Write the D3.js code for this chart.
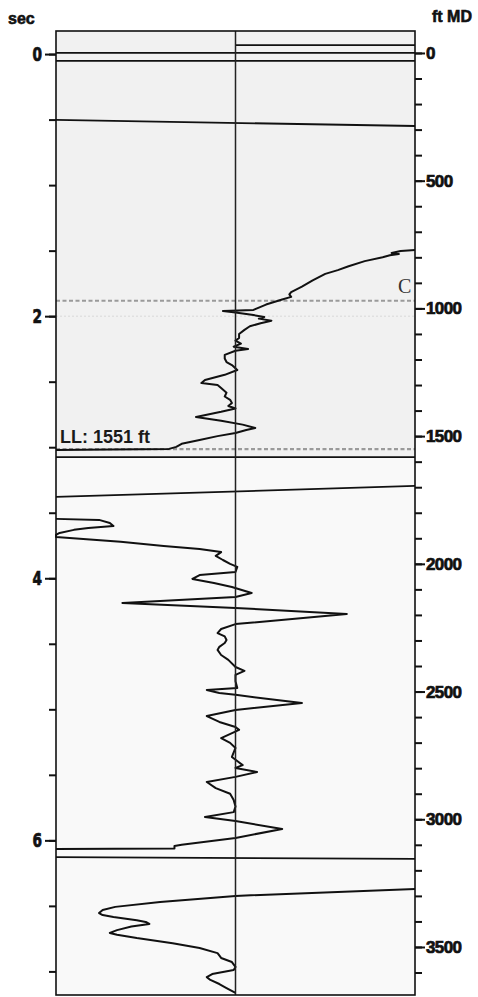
<!DOCTYPE html>
<html>
<head>
<meta charset="utf-8">
<script src="https://cdn.jsdelivr.net/npm/d3@7/dist/d3.min.js"></script>
<style>
  html, body { margin: 0; padding: 0; background: #fff; }
  svg { display: block; }
  .tick text { font-weight: bold; fill: #111; stroke: #111; stroke-width: 0.7px; }
</style>
</head>
<body>
<div id="chart"></div>
<script>
// Depth track: amplitude (-1 … 1) against measured depth in ft.
const curveUpper = [
  [771, 1.0], [775, 0.92], [783, 0.87], [787, 0.91], [792, 0.86], [800, 0.82],
  [815, 0.72], [835, 0.63], [850, 0.57], [865, 0.50], [890, 0.43], [915, 0.37],
  [936, 0.31], [945, 0.30], [955, 0.31], [965, 0.26], [985, 0.17], [1000, 0.12],
  [1006, 0.10], [1010, -0.07], [1016, 0.0], [1026, 0.10], [1034, 0.16], [1040, 0.13],
  [1048, 0.20], [1058, 0.14], [1070, 0.08], [1084, 0.05], [1100, 0.02], [1116, 0.02],
  [1126, 0.0], [1138, 0.03], [1150, -0.01], [1159, 0.07], [1166, 0.0], [1182, -0.06],
  [1196, -0.06], [1210, -0.05], [1222, -0.02], [1241, 0.01], [1260, -0.06],
  [1280, -0.17], [1292, -0.19], [1300, -0.10], [1312, -0.08], [1330, -0.05],
  [1345, -0.06], [1358, -0.03], [1370, -0.02], [1382, -0.04], [1392, 0.0],
  [1405, -0.08], [1425, -0.22], [1440, -0.08], [1455, 0.04], [1468, 0.11],
  [1476, 0.06], [1488, 0.0], [1500, -0.10], [1515, -0.20], [1530, -0.30],
  [1542, -0.33], [1550, -0.37], [1554, -1.0]
];

const curveMiddle = [
  [1824, -1.0], [1828, -0.76], [1840, -0.70], [1852, -0.68], [1860, -0.82],
  [1867, -0.90], [1879, -0.98], [1887, -1.0], [1895, -1.0], [1914, -0.64],
  [1930, -0.40], [1942, -0.20], [1954, -0.08], [1969, -0.11], [1985, -0.07],
  [2000, -0.03], [2012, 0.01], [2032, 0.0], [2044, -0.20], [2059, -0.24],
  [2075, -0.12], [2091, -0.02], [2114, 0.09], [2130, 0.0], [2153, -0.63],
  [2173, 0.0], [2196, 0.62], [2236, 0.0], [2255, -0.08], [2271, -0.10],
  [2284, -0.06], [2298, -0.05], [2310, -0.06], [2325, -0.09], [2337, -0.10],
  [2357, -0.08], [2376, -0.04], [2404, 0.0], [2419, 0.05], [2435, 0.0],
  [2460, 0.0], [2486, 0.01], [2494, -0.16], [2506, -0.09], [2513, 0.0],
  [2545, 0.37], [2572, 0.0], [2596, -0.16], [2619, -0.09], [2639, 0.0],
  [2650, 0.02], [2682, -0.08], [2701, -0.03], [2721, 0.0], [2756, -0.02],
  [2788, 0.04], [2799, 0.0], [2815, 0.12], [2834, 0.0], [2854, -0.16],
  [2878, -0.11], [2900, -0.03], [2925, -0.01], [2950, 0.0], [2972, -0.01],
  [2991, -0.17], [3007, 0.0], [3038, 0.26], [3073, 0.0], [3100, -0.30],
  [3105, -0.34], [3114, -0.34], [3116, -1.0]
];

const curveLower = [
  [3273, 1.0], [3300, 0.0], [3324, -0.42], [3343, -0.67], [3355, -0.74],
  [3367, -0.76], [3375, -0.74], [3383, -0.68], [3395, -0.55], [3402, -0.50],
  [3410, -0.48], [3420, -0.58], [3434, -0.66], [3445, -0.70], [3452, -0.66],
  [3465, -0.55], [3485, -0.35], [3504, -0.20], [3524, -0.10], [3543, -0.08],
  [3559, -0.02], [3578, 0.0], [3590, -0.01], [3606, -0.13], [3618, -0.16],
  [3629, -0.14], [3645, -0.09], [3661, -0.05], [3680, 0.0]
];

// Horizontal markers: depth at left/right end and amplitude span.
const markerDepthLeft  = [-31, 0, 31, 262, 1582, 1738, 3148];
const markerDepthRight = [-31, 0, 31, 286, 1582, 1695, 3155];
const markerFrom       = [0, -1, -1, -1, -1, -1, -1];

const picks = [
  { name: "C", depth: 970 },
  { name: "LL", depth: 1551 }
];
const pickLabel = "LL: 1551 ft";

const secMajorTicks = [0, 2, 4, 6];
const secMinorTicks = [0, 0.5, 1, 1.5, 2, 2.5, 3, 3.5, 4, 4.5, 5, 5.5, 6, 6.5, 7];
const ftMajorTicks = [0, 500, 1000, 1500, 2000, 2500, 3000, 3500];
const ftMinorTicks = d3.range(0, 3601, 100);

const W = 478, H = 997;
const box = { left: 56, right: 415, top: 31, bottom: 995 };

const svg = d3.select('#chart').append('svg')
  .attr('width', W).attr('height', H);

const x = d3.scaleLinear().domain([-1, 1]).range([box.left, box.right]);
const yFt = d3.scaleLinear().domain([-86, 3688]).range([box.top, box.bottom]);
const ySec = d3.scaleLinear().domain([-0.176, 7.18]).range([box.top, box.bottom]);

// backgrounds — upper interval is a touch greyer
svg.append('rect')
  .attr('x', box.left).attr('y', box.top)
  .attr('width', box.right - box.left).attr('height', box.bottom - box.top)
  .attr('fill', '#f9f9f9');
svg.append('rect')
  .attr('x', box.left).attr('y', box.top)
  .attr('width', box.right - box.left).attr('height', yFt(1582) - box.top)
  .attr('fill', '#f1f1f1');

// faint guide at 2 sec
svg.append('line')
  .attr('x1', x(-1)).attr('x2', x(1))
  .attr('y1', ySec(2)).attr('y2', ySec(2))
  .attr('stroke', '#d8d8d8').attr('stroke-width', 1)
  .attr('stroke-dasharray', '2,2');

// pick lines
svg.selectAll('.pick').data(picks).join('line')
  .attr('class', 'pick')
  .attr('x1', x(-1)).attr('x2', x(1))
  .attr('y1', (d) => yFt(d.depth)).attr('y2', (d) => yFt(d.depth))
  .attr('stroke', '#9a9a9a').attr('stroke-width', 2.2)
  .attr('stroke-dasharray', '4,2.5');

// markers
svg.selectAll('.marker').data(markerDepthLeft).join('line')
  .attr('class', 'marker')
  .attr('x1', (d, i) => x(markerFrom[i])).attr('x2', x(1))
  .attr('y1', (d) => yFt(d)).attr('y2', (d, i) => yFt(markerDepthRight[i]))
  .attr('stroke', '#111').attr('stroke-width', 1.8);

// log curves
const line = d3.line().x((d) => x(d[1])).y((d) => yFt(d[0]));
svg.selectAll('.curve').data([curveUpper, curveMiddle, curveLower]).join('path')
  .attr('class', 'curve')
  .attr('d', line)
  .attr('fill', 'none').attr('stroke', '#111')
  .attr('stroke-width', 2).attr('stroke-linejoin', 'round');

// centre line + frame
svg.append('line')
  .attr('x1', x(0)).attr('x2', x(0))
  .attr('y1', box.top).attr('y2', box.bottom)
  .attr('stroke', '#222').attr('stroke-width', 1.5);
svg.append('rect')
  .attr('x', box.left).attr('y', box.top)
  .attr('width', box.right - box.left).attr('height', box.bottom - box.top)
  .attr('fill', 'none').attr('stroke', '#111').attr('stroke-width', 1.6);

// left axis (sec)
const leftMinor = svg.append('g').attr('transform', `translate(${box.left},0)`)
  .call(d3.axisLeft(ySec).tickValues(secMinorTicks).tickSize(7).tickFormat(''));
const leftMajor = svg.append('g').attr('transform', `translate(${box.left},0)`)
  .call(d3.axisLeft(ySec).tickValues(secMajorTicks).tickSize(11).tickPadding(3).tickFormat(d3.format('d')));
leftMajor.selectAll('text')
  .attr('font-family', '"DejaVu Sans Condensed", "Liberation Sans", sans-serif')
  .attr('font-size', 19)
  .attr('transform', 'scale(0.8,1)').attr('x', -17.5);

// right axis (ft MD)
const rightMinor = svg.append('g').attr('transform', `translate(${box.right},0)`)
  .call(d3.axisRight(yFt).tickValues(ftMinorTicks).tickSize(7).tickFormat(''));
const rightMajor = svg.append('g').attr('transform', `translate(${box.right},0)`)
  .call(d3.axisRight(yFt).tickValues(ftMajorTicks).tickSize(10).tickPadding(1).tickFormat(d3.format('d')));
rightMajor.selectAll('text')
  .attr('font-family', '"Liberation Sans", Arial, sans-serif')
  .attr('font-size', 17).attr('letter-spacing', -0.6);

[leftMinor, leftMajor, rightMinor, rightMajor].forEach((g) => {
  g.select('.domain').remove();
  g.selectAll('.tick line').attr('stroke', '#111').attr('stroke-width', 2);
});

// axis titles
svg.append('text')
  .attr('x', 8).attr('y', 24)
  .attr('font-family', '"Liberation Sans", Arial, sans-serif')
  .attr('font-size', 16).attr('font-weight', 'bold').attr('fill', '#111')
  .attr('stroke', '#111').attr('stroke-width', 0.6)
  .text('sec');
svg.append('text')
  .attr('x', 432).attr('y', 22)
  .attr('font-family', '"Liberation Sans", Arial, sans-serif')
  .attr('font-size', 16).attr('font-weight', 'bold').attr('fill', '#111')
  .attr('stroke', '#111').attr('stroke-width', 0.6)
  .text('ft MD');

// pick annotations
svg.append('text')
  .attr('x', box.left + 4).attr('y', yFt(picks[1].depth) - 6)
  .attr('font-family', '"Liberation Sans", Arial, sans-serif')
  .attr('font-size', 18).attr('font-weight', 'bold').attr('fill', '#1a1a1a')
  .text(pickLabel);
svg.append('text')
  .attr('x', box.right - 17).attr('y', yFt(picks[0].depth) - 8)
  .attr('font-family', '"Liberation Serif", "Times New Roman", serif')
  .attr('font-size', 20).attr('fill', '#333')
  .text(picks[0].name);
</script>
</body>
</html>
